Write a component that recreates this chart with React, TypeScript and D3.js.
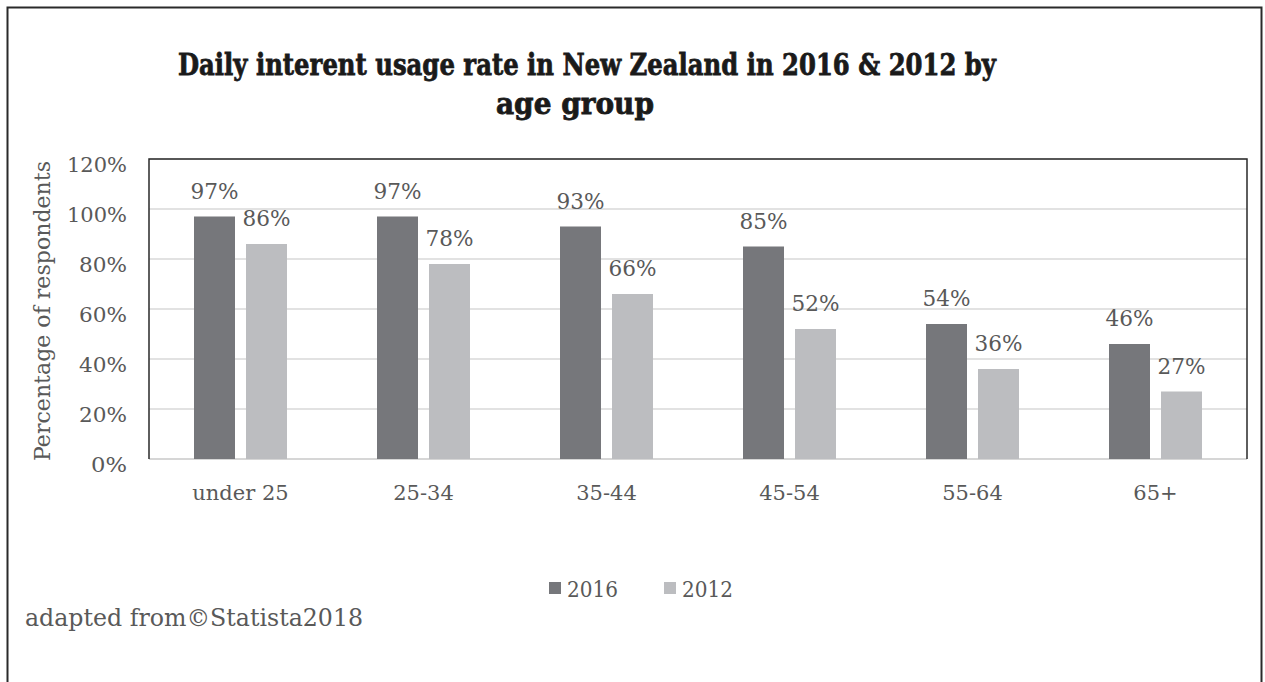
import React from "react";
import * as d3 from "d3";

const categories = ["under 25", "25-34", "35-44", "45-54", "55-64", "65+"];
const series2016 = [97, 97, 93, 85, 54, 46];
const series2012 = [86, 78, 66, 52, 36, 27];
const seriesNames = ["2016", "2012"];
const yTicks = [0, 20, 40, 60, 80, 100, 120];
const titleLines = ["Daily interent usage rate in New Zealand in 2016 & 2012 by", "age group"];
const footnote = "adapted from©Statista2018";

const W = 1265;
const H = 682;
const plot = { left: 149, top: 159, right: 1247, bottom: 459 };
const colors = ["#76777b", "#bcbdc0"];
const textColor = "#595959";
const font = "'DejaVu Serif', serif";

export default function App() {
  const x = d3.scaleBand<string>().domain(categories).range([plot.left, plot.right]);
  const y = d3.scaleLinear().domain([0, 120]).range([plot.bottom, plot.top]);
  const barW = 41;
  const gap = 11;
  const data = [series2016, series2012];

  return (
    <svg
      width={W}
      height={H}
      style={{ position: "absolute", left: 0, top: 0, background: "#fff" }}
      fontFamily={font}
    >
      <rect x={0} y={0} width={W} height={H} fill="#fff" />
      {/* outer frame */}
      <rect x={7.5} y={7.5} width={1254} height={H + 10} fill="none" stroke="#2a2a2a" strokeWidth={2} />

      {/* title */}
      <text x={587} y={75} textAnchor="middle" fontWeight="bold" fontSize={30} fill="#1a1a1a"
        stroke="#1a1a1a" strokeWidth={0.8}
        textLength={818} lengthAdjust="spacingAndGlyphs">{titleLines[0]}</text>
      <text x={575} y={114} textAnchor="middle" fontWeight="bold" fontSize={30} fill="#1a1a1a"
        stroke="#1a1a1a" strokeWidth={0.8}
        textLength={158} lengthAdjust="spacingAndGlyphs">{titleLines[1]}</text>

      {/* gridlines */}
      {yTicks.map((t) => (
        <line key={"g" + t} x1={plot.left} x2={plot.right} y1={y(t)} y2={y(t)}
          stroke={t === 0 ? "#c8c8c8" : "#d9d9d9"} strokeWidth={1.5} />
      ))}
      {/* plot frame: left, top, right */}
      <path d={`M${plot.left},${plot.bottom}V${plot.top}H${plot.right}V${plot.bottom}`}
        fill="none" stroke="#2a2a2a" strokeWidth={1.5} />

      {/* y tick labels */}
      {yTicks.map((t) => (
        <text key={"t" + t} x={127} y={y(t) + 13} textAnchor="end" fontSize={21} fill={textColor}
          textLength={t === 0 ? 36 : t >= 100 ? 60 : 48} lengthAdjust="spacingAndGlyphs">{t}%</text>
      ))}
      <text transform={`translate(50,311) rotate(-90)`} textAnchor="middle" fontSize={22} fill={textColor}
        textLength={300} lengthAdjust="spacingAndGlyphs">Percentage of respondents</text>

      {/* bars */}
      {categories.map((c, i) => {
        const cx = (x(c) as number) + x.bandwidth() / 2;
        return data.map((s, j) => {
          const bx = j === 0 ? cx - gap / 2 - barW : cx + gap / 2;
          const v = s[i];
          return (
            <g key={c + j}>
              <rect x={bx} y={y(v)} width={barW} height={y(0) - y(v)} fill={colors[j]} />
              <text x={bx + barW / 2} y={y(v) - 18} textAnchor="middle" fontSize={21.5} fill={textColor}
                textLength={48} lengthAdjust="spacingAndGlyphs">{v}%</text>
            </g>
          );
        });
      })}

      {/* x labels */}
      {categories.map((c) => (
        <text key={"x" + c} x={(x(c) as number) + x.bandwidth() / 2} y={500} textAnchor="middle" fontSize={21} fill={textColor}>{c}</text>
      ))}

      {/* legend */}
      {seriesNames.map((n, j) => {
        const lx = 549 + j * 115;
        return (
          <g key={n}>
            <rect x={lx} y={582} width={12} height={12} fill={colors[j]} />
            <text x={lx + 18} y={597} fontSize={23} fill={textColor} textLength={51} lengthAdjust="spacingAndGlyphs">{n}</text>
          </g>
        );
      })}

      <text x={25} y={626} fontSize={24} fill={textColor} textLength={338} lengthAdjust="spacingAndGlyphs">{footnote}</text>
    </svg>
  );
}
